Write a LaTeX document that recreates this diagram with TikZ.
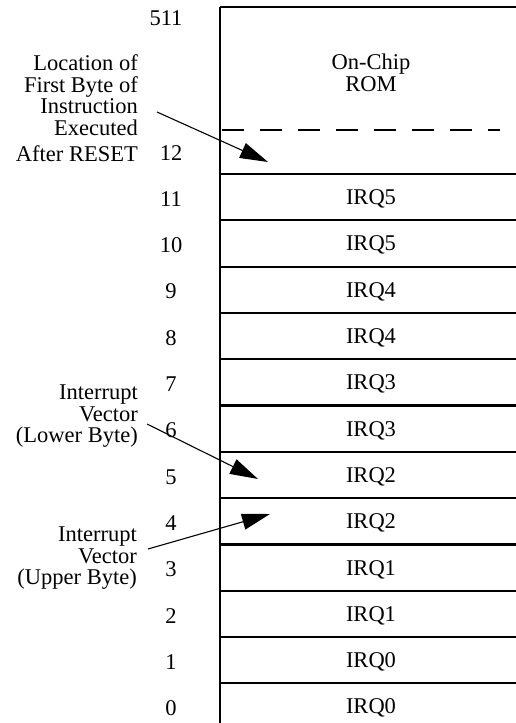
\documentclass[tikz,border=0pt]{standalone}
\usepackage{fontspec}
\setmainfont{Liberation Serif}
\usetikzlibrary{arrows.meta}
\begin{document}
\begin{tikzpicture}[x=1pt,y=-1pt,
  wall/.style={line width=2.2pt},
  txt/.style={font=\fontsize{22.5}{21.5}\selectfont, inner sep=0pt},
  lbl/.style={txt, align=right, anchor=east},
  ptr/.style={line width=1.1pt, -{Triangle[length=28pt,width=16pt]}}]
\useasboundingbox (0,0) rectangle (516,723);
% memory column
\draw[wall] (220,7) -- (516,7);
\draw[wall] (220,7) -- (220,723);
\draw[wall, dash pattern=on 22pt off 16pt] (222,130) -- (500,130);
\foreach \k in {0,...,11}{
  \draw[wall] (220,{174+46.3*\k}) -- (516,{174+46.3*\k});
}
% ROM region
\node[txt, align=center] (rom) at (371,73) {On-Chip\\ROM};
\node[txt] (n511) at (166,18) {511};
\node[txt] (n12) at (171,153) {12};
% rows
\foreach \r/\name in {11/IRQ5,10/IRQ5,9/IRQ4,8/IRQ4,7/IRQ3,6/IRQ3,5/IRQ2,4/IRQ2,3/IRQ1,2/IRQ1,1/IRQ0,0/IRQ0}{
  \node[txt] (cell\r) at (371,{174+46.3*(11-\r)+25}) {\name};
  \node[txt] (num\r) at (171,{174+46.3*(11-\r)+25}) {\r};
}
% side labels
\node[lbl] (reset) at (138,108) {Location of\\First Byte of\\Instruction\\Executed\\[4.5pt]After RESET};
\node[lbl] (lower) at (138,416.5) {Interrupt\\Vector\\(Lower Byte)};
\node[lbl] (upper) at (137,558.5) {Interrupt\\Vector\\(Upper Byte)};
% arrows
\coordinate (s1) at (157,112);
\coordinate (t1) at (268,162);
\coordinate (s2) at (147,424);
\coordinate (t2) at (258,479);
\coordinate (s3) at (148,549);
\coordinate (t3) at (270,514);
\draw[ptr] (s1) -- (t1);
\draw[ptr] (s2) -- (t2);
\draw[ptr] (s3) -- (t3);
\end{tikzpicture}
\end{document}
